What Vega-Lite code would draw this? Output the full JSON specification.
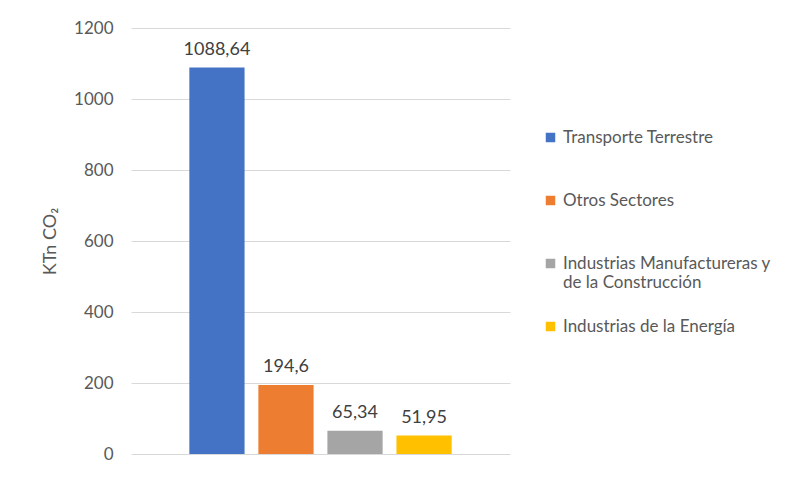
{
  "$schema": "https://vega.github.io/schema/vega-lite/v6.json",
  "autosize": "none",
  "width": 379,
  "height": 426,
  "padding": {"left": 131, "top": 28, "right": 293, "bottom": 23},
  "background": "white",
  "config": {
    "font": "Lato",
    "view": {"stroke": null},
    "locale": {"number": {"decimal": ",", "thousands": ".", "grouping": [3], "currency": ["", " €"]}}
  },
  "data": {
    "values": [
      {"sector": "Transporte Terrestre", "valor": 1088.64},
      {"sector": "Otros Sectores", "valor": 194.6},
      {"sector": "Industrias Manufactureras y de la Construcción", "valor": 65.34},
      {"sector": "Industrias de la Energía", "valor": 51.95}
    ]
  },
  "encoding": {
    "x": {
      "field": "sector",
      "type": "nominal",
      "sort": null,
      "scale": {"paddingInner": 0.2, "paddingOuter": 0.845},
      "axis": null
    },
    "y": {
      "field": "valor",
      "type": "quantitative",
      "scale": {"domain": [0, 1200], "nice": false},
      "axis": {
        "values": [0, 200, 400, 600, 800, 1000, 1200],
        "format": "d",
        "title": "KTn CO₂",
        "titleFont": "Lato",
        "titleFontSize": 18,
        "titleFontWeight": "normal",
        "titleColor": "#595959",
        "titlePadding": 14,
        "labelFontSize": 17,
        "labelColor": "#595959",
        "labelPadding": 18,
        "ticks": false,
        "domain": false,
        "grid": true,
        "gridColor": "#d9d9d9",
        "gridWidth": 1
      }
    }
  },
  "layer": [
    {
      "mark": {"type": "bar"},
      "encoding": {
        "color": {
          "field": "sector",
          "type": "nominal",
          "sort": null,
          "scale": {
            "domain": ["Transporte Terrestre", "Otros Sectores", "Industrias Manufactureras y de la Construcción", "Industrias de la Energía"],
            "range": ["#4472C4", "#ED7D31", "#A5A5A5", "#FFC000"]
          },
          "legend": {
            "title": null,
            "orient": "none",
            "legendX": 411,
            "legendY": 101,
            "symbolType": "square",
            "symbolSize": 90,
            "symbolStrokeWidth": 0,
            "labelFontSize": 17,
            "labelColor": "#595959",
            "labelOffset": 4,
            "labelLimit": 300,
            "labelBaseline": "middle",
            "gridAlign": "all",
            "rowPadding": 26,
            "labelExpr": "datum.label == 'Industrias Manufactureras y de la Construcción' ? ['Industrias Manufactureras y', 'de la Construcción'] : datum.label"
          }
        }
      }
    },
    {
      "mark": {"type": "text", "baseline": "alphabetic", "dy": -13, "fontSize": 18, "color": "#404040"},
      "encoding": {
        "text": {"field": "valor", "type": "quantitative", "format": "~f"}
      }
    }
  ]
}
